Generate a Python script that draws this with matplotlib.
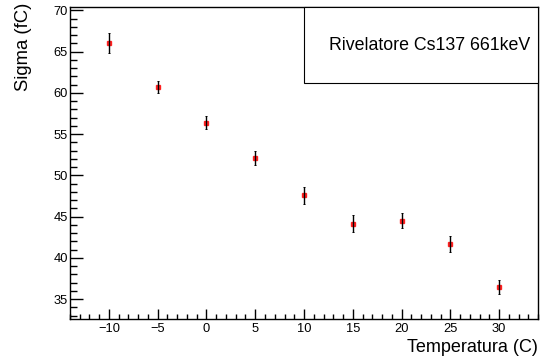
import matplotlib
matplotlib.use("Agg")
import matplotlib.pyplot as plt
from matplotlib.ticker import MultipleLocator
import matplotlib.patches as mpatches

temperature = [-10, -5, 0, 5, 10, 15, 20, 25, 30]
sigma = [66.05, 60.7, 56.4, 52.15, 47.6, 44.15, 44.5, 41.7, 36.5]
sigma_err = [1.2, 0.75, 0.8, 0.85, 1.05, 1.0, 0.9, 0.95, 0.85]

xlabel = "Temperatura (C)"
ylabel = "Sigma (fC)"
legend_text = "Rivelatore Cs137 661keV"

plt.rcParams['font.family'] = ['Liberation Sans', 'DejaVu Sans']

W, H = 544, 360
fig = plt.figure(figsize=(W / 100, H / 100), dpi=100)
L, R, B, T = 70, 538, 319, 7
ax = fig.add_axes([L / W, 1 - B / H, (R - L) / W, (B - T) / H])

ax.errorbar(temperature, sigma, yerr=sigma_err, fmt='none', ecolor='black',
            elinewidth=1.0, capsize=1.0, capthick=0.7, zorder=3)
ax.plot(temperature, sigma, linestyle='none', marker='s', markersize=3.3,
        markerfacecolor='red', markeredgecolor='red', alpha=0.8, zorder=2)

ax.set_xlim(-14, 34)
ax.set_ylim(32.6, 70.4)

ax.xaxis.set_major_locator(MultipleLocator(5))
ax.xaxis.set_minor_locator(MultipleLocator(1))
ax.yaxis.set_major_locator(MultipleLocator(5))
ax.yaxis.set_minor_locator(MultipleLocator(1))

ax.tick_params(axis='x', which='major', direction='in', length=7, width=1.0,
               labelsize=9.3, pad=3, top=False)
ax.tick_params(axis='x', which='minor', direction='in', length=3.4, width=1.0, top=False)
ax.tick_params(axis='y', which='major', direction='in', length=9.4, width=1.0,
               labelsize=9.3, pad=1.5, right=False)
ax.tick_params(axis='y', which='minor', direction='in', length=5, width=1.0, right=False)

for sp in ax.spines.values():
    sp.set_linewidth(1.0)

ax.xaxis.set_major_formatter(plt.FuncFormatter(lambda v, p: f"{int(round(v))}".replace('-', '\u2212')))
ax.yaxis.set_major_formatter(plt.FuncFormatter(lambda v, p: f"{int(round(v))}"))

fig.text(R / W, 1 - 352 / H, xlabel, ha='right', va='baseline', fontsize=13)
fig.text(23.5 / W, 1 - 3 / H, ylabel, ha='center', va='top', rotation=90, fontsize=13.3)

# legend box
box = mpatches.Rectangle((304 / W, 1 - 83 / H), (R - 304) / W, (83 - 7) / H,
                         transform=fig.transFigure, facecolor='white',
                         edgecolor='black', linewidth=0.8, zorder=5)
fig.patches.append(box)
fig.text(430 / W, 1 - 46 / H, legend_text, ha='center', va='center', fontsize=12.8, zorder=6)

fig.savefig("out.png", dpi=100)
